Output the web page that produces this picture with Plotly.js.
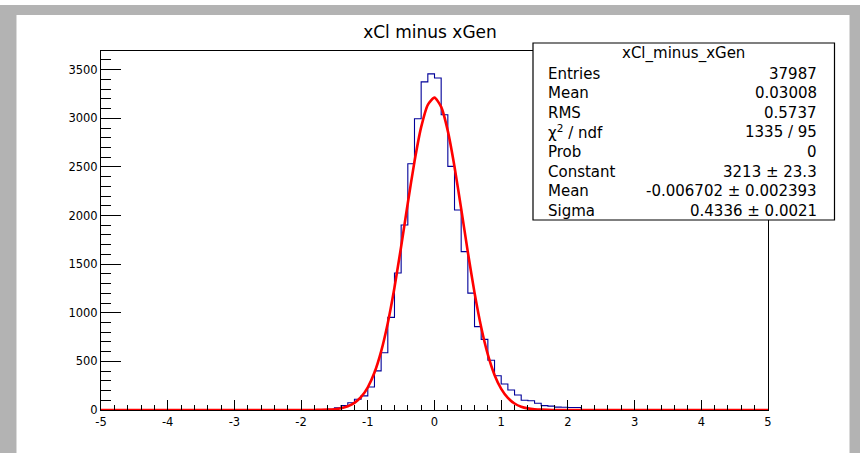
<!DOCTYPE html>
<html>
<head>
<meta charset="utf-8">
<script src="https://cdn.plot.ly/plotly-3.0.1.min.js"></script>
<style>
  html, body { margin: 0; padding: 0; background: #ffffff; }
  #wrap { position: relative; width: 860px; height: 453px; overflow: hidden; }
  #plot { position: absolute; left: 0; top: 0; width: 860px; height: 453px; }
  .g { position: absolute; background: #b3b3b3; z-index: 5; }
  .gl { position: absolute; background: #dadada; z-index: 6; }
</style>
</head>
<body>
<div id="wrap">
  <div id="plot"></div>
  <div class="g" style="left:0;top:5px;width:860px;height:10px;"></div>
  <div class="g" style="left:0;top:5px;width:16px;height:448px;"></div>
  <div class="g" style="left:850px;top:5px;width:10px;height:448px;"></div>
  <div class="gl" style="left:16px;top:15px;width:1px;height:438px;"></div>
  <div class="gl" style="left:849px;top:15px;width:1px;height:438px;"></div>
</div>
<script>
// ---- histogram definition ----
const xMin = -5;
const xMax = 5;
const nBins = 100;
// bin contents (bins of width 0.1 from -5 to 5)
const counts = [
  0, 0, 0, 0, 0, 0, 0, 0, 0, 0,
  0, 0, 0, 0, 0, 0, 0, 0, 0, 0,
  0, 0, 0, 0, 0, 0, 0, 0, 0, 0,
  0, 0, 0, 2, 8, 22, 45, 75, 110, 145,
  236, 402, 588, 953, 1409, 1902, 2533, 2995, 3374, 3457,
  3415, 3036, 2505, 2057, 1629, 1202, 857, 726, 512, 352,
  268, 205, 155, 100, 95, 70, 45, 40, 30, 28,
  25, 25, 5, 3, 2, 0, 0, 0, 0, 0,
  0, 0, 0, 0, 0, 0, 0, 0, 0, 0,
  0, 0, 0, 0, 0, 0, 0, 0, 0, 0
];

// ---- gaussian fit curve ----
const fitX = [-5, -1.8, -1.7, -1.6, -1.5, -1.4, -1.3, -1.2, -1.1, -1.0, -0.9, -0.8, -0.7, -0.6, -0.5, -0.4, -0.3, -0.2, -0.1,
  0, 0.1, 0.2, 0.3, 0.4, 0.5, 0.6, 0.7, 0.8, 0.9, 1.0, 1.1, 1.2, 1.3, 1.4, 1.5, 1.6, 1.7, 1.8, 5];
const fitY = [0, 0.6, 1.6, 3.8, 8.5, 18, 38, 73, 134, 233, 385, 603, 895, 1260, 1682, 2129, 2556, 2909, 3139,
  3213, 3117, 2868, 2502, 2070, 1623, 1207, 851, 569, 361, 217, 124, 67, 34, 17, 8, 3.4, 1.4, 0.5, 0];

// ---- axis tick labels ----
const xTickVals = [-5, -4, -3, -2, -1, 0, 1, 2, 3, 4, 5];
const xTickText = ["-5", "-4", "-3", "-2", "-1", "0", "1", "2", "3", "4", "5"];
const yTickVals = [0, 500, 1000, 1500, 2000, 2500, 3000, 3500];
const yTickText = ["0", "500", "1000", "1500", "2000", "2500", "3000", "3500"];

// ---- text ----
const chartTitle = "xCl minus xGen";
const statsTitle = "xCl_minus_xGen";
const statLabels = ["Entries", "Mean", "RMS", "χ<sup>2</sup> / ndf", "Prob", "Constant", "Mean", "Sigma"];
const statValues = ["37987", "0.03008", "0.5737", "1335 / 95", "0", "3213 ± 23.3", "-0.006702 ± 0.002393", "0.4336 ± 0.0021"];
const yMax = 3692;

// ---- build step outline ----
const binW = (xMax - xMin) / nBins;
const edges = [];
for (let i = 0; i <= nBins; i++) edges.push(+(xMin + i * binW).toFixed(4));
const stepY = counts.concat([counts[counts.length - 1]]);

const W = 860, H = 453;
const mL = 101, mR = 92, mT = 51, mB = 43;
const pw = W - mL - mR, ph = H - mT - mB;
const px2x = p => (p - mL) / pw;
const py2y = p => (H - mB - p) / ph;

const FONT = "DejaVu Sans, Liberation Sans, Arial, sans-serif";

const traces = [
  {
    type: "scatter", mode: "lines",
    x: edges, y: stepY,
    line: { shape: "hv", color: "#000099", width: 1.1 },
    hoverinfo: "skip", showlegend: false
  },
  {
    type: "scatter", mode: "lines",
    x: fitX, y: fitY,
    line: { shape: "spline", smoothing: 0.6, color: "#ff0000", width: 2.6 },
    hoverinfo: "skip", showlegend: false
  }
];

const boxL = 533, boxR = 834.5, boxT = 43, boxB = 220;
const shapes = [
  {
    type: "rect", xref: "paper", yref: "paper", layer: "above",
    x0: px2x(boxL), x1: px2x(boxR), y0: py2y(boxB), y1: py2y(boxT),
    fillcolor: "#ffffff", line: { color: "#000000", width: 1.2 }
  }
];

const annotations = [
  {
    xref: "paper", yref: "paper", x: px2x((boxL + boxR) / 2), y: py2y(53),
    xanchor: "center", yanchor: "middle", showarrow: false,
    text: statsTitle, font: { family: FONT, size: 15, color: "#000" }
  }
];
const rowY0 = 73.5, rowStep = 19.6;
statLabels.forEach((lab, k) => {
  annotations.push({
    xref: "paper", yref: "paper", x: px2x(546), y: py2y(rowY0 + k * rowStep),
    xanchor: "left", yanchor: "middle", showarrow: false,
    text: lab, font: { family: FONT, size: 15, color: "#000" }
  });
  annotations.push({
    xref: "paper", yref: "paper", x: px2x(819), y: py2y(rowY0 + k * rowStep),
    xanchor: "right", yanchor: "middle", showarrow: false,
    text: statValues[k], font: { family: FONT, size: 15, color: "#000" }
  });
});

const layout = {
  width: W, height: H,
  margin: { l: mL, r: mR, t: mT, b: mB, pad: 0 },
  paper_bgcolor: "#ffffff", plot_bgcolor: "#ffffff",
  showlegend: false,
  title: {
    text: chartTitle, x: 0.5, xref: "container", xanchor: "center",
    y: 1 - 32 / H, yref: "container", yanchor: "middle",
    font: { family: FONT, size: 17, color: "#000" }
  },
  xaxis: {
    range: [xMin, xMax], tickmode: "array", tickvals: xTickVals, ticktext: xTickText,
    ticks: "inside", ticklen: 10, tickwidth: 1, tickcolor: "#000",
    showline: true, linecolor: "#000", linewidth: 1, mirror: true,
    showgrid: false, zeroline: false, ticklabelstandoff: 1,
    tickfont: { family: FONT, size: 11.5, color: "#000" },
    minor: { dtick: 0.2, tick0: -5, ticks: "inside", ticklen: 5, tickcolor: "#000", tickwidth: 1, showgrid: false }
  },
  yaxis: {
    range: [0, yMax], tickmode: "array", tickvals: yTickVals, ticktext: yTickText,
    ticks: "inside", ticklen: 20, tickwidth: 1, tickcolor: "#000",
    showline: true, linecolor: "#000", linewidth: 1, mirror: true,
    showgrid: false, zeroline: false,
    tickfont: { family: FONT, size: 11.5, color: "#000" },
    minor: { dtick: 100, tick0: 0, ticks: "inside", ticklen: 10, tickcolor: "#000", tickwidth: 1, showgrid: false }
  },
  shapes: shapes,
  annotations: annotations
};

Plotly.newPlot("plot", traces, layout, { staticPlot: true, displayModeBar: false });
</script>
</body>
</html>
